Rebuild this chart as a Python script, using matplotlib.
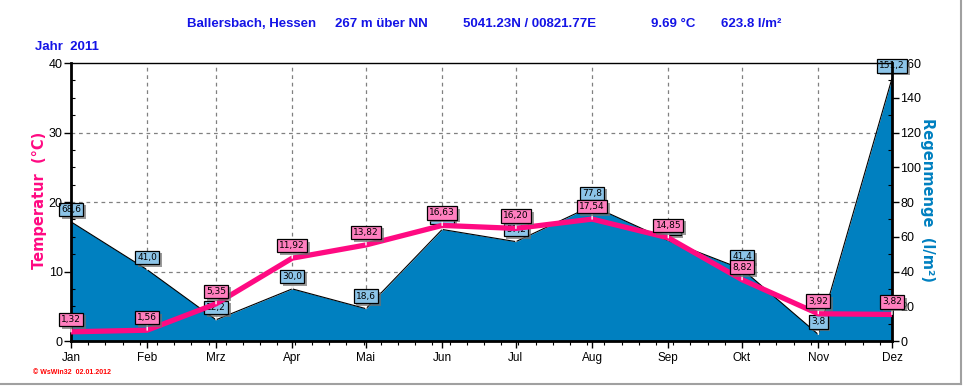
import matplotlib
matplotlib.use("Agg")
import matplotlib.pyplot as plt
from matplotlib.ticker import MultipleLocator, FixedLocator
from matplotlib import patheffects as pe

plt.rcParams["font.family"] = ["Liberation Sans", "DejaVu Sans"]

# monthly data 2011, Ballersbach
months = ["Jan", "Feb", "Mrz", "Apr", "Mai", "Jun", "Jul", "Aug", "Sep", "Okt", "Nov", "Dez"]
month_day = [0, 31, 59, 90, 120, 151, 181, 212, 243, 273, 304, 334]
temp = [1.32, 1.56, 5.35, 11.92, 13.82, 16.63, 16.20, 17.54, 14.85, 8.82, 3.92, 3.82]
rain = [68.6, 41.0, 12.2, 30.0, 18.6, 64.2, 57.2, 77.8, 57.8, 41.4, 3.8, 151.2]

PINK = "#ff0a82"
BLUE = "#0080c0"
TXTBLUE = "#1414e6"

fig = plt.figure(figsize=(9.68, 3.92), dpi=100)
ax = fig.add_axes([71 / 968, 1 - 341 / 392, (892 - 71) / 968, (341 - 63) / 392])
ax2 = ax.twinx()
ax.set_zorder(ax2.get_zorder() + 1)
ax.patch.set_visible(False)

# grid sits under the rain area
for g in [40, 80, 120]:
    ax2.axhline(g, color="#808080", ls=(0, (3, 3)), lw=0.9, zorder=0)
for d in month_day[1:-1]:
    ax2.axvline(d, color="#808080", ls=(0, (3, 3)), lw=0.9, zorder=0)

ax2.fill_between(month_day, rain, 0, color=BLUE, zorder=1, lw=0)
ax2.plot(month_day, rain, color="black", lw=0.8, zorder=2)
ax.plot(month_day, temp, color=PINK, lw=3.8, solid_capstyle="butt", zorder=3)

ax.set_xlim(0, 334)
ax.set_ylim(0, 40)
ax2.set_ylim(0, 160)


def label(a, x, y, txt, fc):
    t = a.annotate(txt, (x, y), xytext=(0, 9), textcoords="offset points",
                   ha="center", va="center", fontsize=6.5, family="DejaVu Sans",
                   annotation_clip=False, zorder=5,
                   bbox=dict(boxstyle="square,pad=0.25", fc=fc, ec="black", lw=0.9),
                   arrowprops=dict(arrowstyle="-", color="white", lw=1,
                                   shrinkA=0, shrinkB=0))
    t.get_bbox_patch().set_path_effects([
        pe.SimplePatchShadow(offset=(2, -2), shadow_rgbFace="#707070", alpha=0.7),
        pe.Normal()])
    return t


for d, r in zip(month_day, rain):
    label(ax2, d, r, f"{r:.1f}".replace(".", ","), "#8cc4e8")
for d, v in zip(month_day, temp):
    label(ax, d, v, f"{v:.2f}".replace(".", ","), "#ff7fbf")

# ticks
ax.xaxis.set_major_locator(FixedLocator(month_day))
ax.set_xticklabels(months)
ax.xaxis.set_minor_locator(MultipleLocator(7))
ax.yaxis.set_major_locator(MultipleLocator(10))
ax.yaxis.set_minor_locator(MultipleLocator(2.5))
ax2.yaxis.set_major_locator(MultipleLocator(20))
ax2.yaxis.set_minor_locator(MultipleLocator(10))
ax.tick_params(axis="x", which="major", direction="out", length=5, width=1, labelsize=8.5, pad=3)
ax.tick_params(axis="x", which="minor", direction="out", length=3, width=0.8)
ax.tick_params(axis="y", which="major", direction="out", length=5, width=1, labelsize=9, pad=1)
ax.tick_params(axis="y", which="minor", direction="in", length=3, width=0.8)
ax2.tick_params(axis="y", which="major", direction="out", length=5, width=1, labelsize=9, pad=1)
ax2.tick_params(axis="y", which="minor", direction="in", length=3, width=0.8)

for s in ["left", "bottom", "right"]:
    ax.spines[s].set_linewidth(2)
ax.spines["top"].set_linewidth(1)
for s in ax2.spines.values():
    s.set_visible(False)

# texts
fig.text(0.0413, 0.49, "Temperatur  (°C)", rotation=90, color=PINK, fontsize=10.5,
         fontweight="bold", ha="center", va="center", family="DejaVu Sans")
fig.text(0.958, 0.49, "Regenmenge  (l/m²)", rotation=270, color=BLUE, fontsize=10.5,
         fontweight="bold", ha="center", va="center", family="DejaVu Sans")

tfont = dict(color=TXTBLUE, fontsize=9.5, fontweight="bold", va="center",
             family=["Liberation Sans Narrow", "Liberation Sans", "DejaVu Sans"])
y_t = 1 - 24 / 392
fig.text(187 / 968, y_t, "Ballersbach, Hessen", **tfont)
fig.text(335 / 968, y_t, "267 m über NN", **tfont)
fig.text(463 / 968, y_t, "5041.23N / 00821.77E", **tfont)
fig.text(651 / 968, y_t, "9.69 °C", **tfont)
fig.text(721 / 968, y_t, "623.8 l/m²", **tfont)
fig.text(35 / 968, 1 - 47 / 392, "Jahr  2011", **tfont)

fig.text(33 / 968, 1 - 372 / 392, "© WsWin32  02.01.2012", color="red", fontsize=5,
         fontweight="bold", va="center")

# window frame
fig.add_artist(plt.Line2D([0, 961 / 968], [1 - 384 / 392] * 2, color="#a0a0a0", lw=1.5))
fig.add_artist(plt.Line2D([961 / 968] * 2, [1 - 384 / 392, 1], color="#a0a0a0", lw=1.5))

fig.savefig("out.png", dpi=100)
